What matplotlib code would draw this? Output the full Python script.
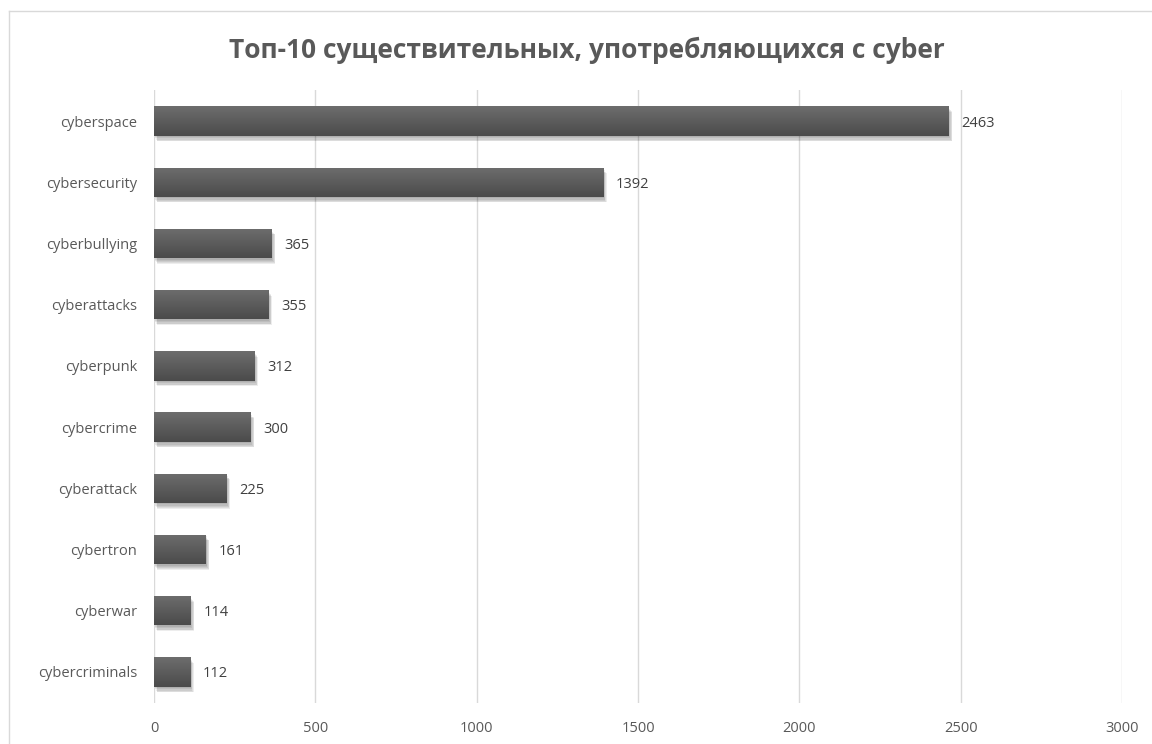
import numpy as np
import matplotlib.pyplot as plt
import matplotlib.patheffects as pe
from matplotlib.lines import Line2D
from matplotlib.colors import LinearSegmentedColormap

# data (top to bottom)
words = ["cyberspace", "cybersecurity", "cyberbullying", "cyberattacks", "cyberpunk",
         "cybercrime", "cyberattack", "cybertron", "cyberwar", "cybercriminals"]
counts = [2463, 1392, 365, 355, 312, 300, 225, 161, 114, 112]
xticks = [0, 500, 1000, 1500, 2000, 2500, 3000]

title = "Топ-10 существительных, употребляющихся с cyber"
text_color = "#595959"

plt.rcParams['font.family'] = ['Open Sans', 'DejaVu Sans']

fig = plt.figure(figsize=(11.52, 7.44), dpi=100)
ax = fig.add_axes([154 / 1152, 1 - 702.6 / 744, 968 / 1152, 612.2 / 744])

# soft drop shadow built from a few faint offset copies
shadow = [pe.SimplePatchShadow(offset=(dx, -dy), alpha=0.07, shadow_rgbFace="#000000")
          for dx, dy in [(0.5, 1), (1, 2), (1.5, 3), (2, 3.5), (2.5, 4)]]

y = np.arange(len(words))
bars = ax.barh(y, counts, height=0.48, color="#595959", zorder=3,
               path_effects=shadow + [pe.Normal()])

# vertical gradient on each bar, lighter on top
grad = np.linspace(0, 1, 64).reshape(-1, 1)
cmap = LinearSegmentedColormap.from_list("bar", ["#6d6d6d", "#4b4b4b"])
for b in bars:
    x0, y0 = b.get_x(), b.get_y()
    w, h = b.get_width(), b.get_height()
    im = ax.imshow(grad, cmap=cmap, aspect="auto", extent=(x0, x0 + w, y0 + h, y0),
                   origin="upper", zorder=4)
    im.set_clip_path(b)

for yi, v in zip(y, counts):
    ax.annotate(str(v), (v, yi), xytext=(9, 0), textcoords="offset points",
                va="center_baseline", ha="left", fontsize=10.5, color="#404040")

ax.set_xlim(0, 3000)
ax.set_ylim(len(words) - 0.5, -0.5)
ax.set_yticks(y)
ax.set_yticklabels(words, fontsize=10.5, color=text_color)
ax.set_xticks(xticks)
ax.set_xticklabels([str(t) for t in xticks], fontsize=10.5, color=text_color)
ax.tick_params(length=0)
ax.tick_params(axis="y", pad=12)
ax.tick_params(axis="x", pad=13)
ax.grid(axis="x", color="#d9d9d9", linewidth=1, zorder=0)
for s in ax.spines.values():
    s.set_visible(False)

fig.text(587 / 1152, 1 - 50 / 744, title, ha="center", va="center",
         fontsize=19, fontweight="bold", color=text_color)

# chart border (only the left and top edges are in frame)
fig.add_artist(Line2D([9 / 1152, 9 / 1152], [0, 1 - 11 / 744], color="#d9d9d9", lw=1))
fig.add_artist(Line2D([9 / 1152, 1], [1 - 11 / 744, 1 - 11 / 744], color="#d9d9d9", lw=1))

fig.savefig("out.png", dpi=100)
